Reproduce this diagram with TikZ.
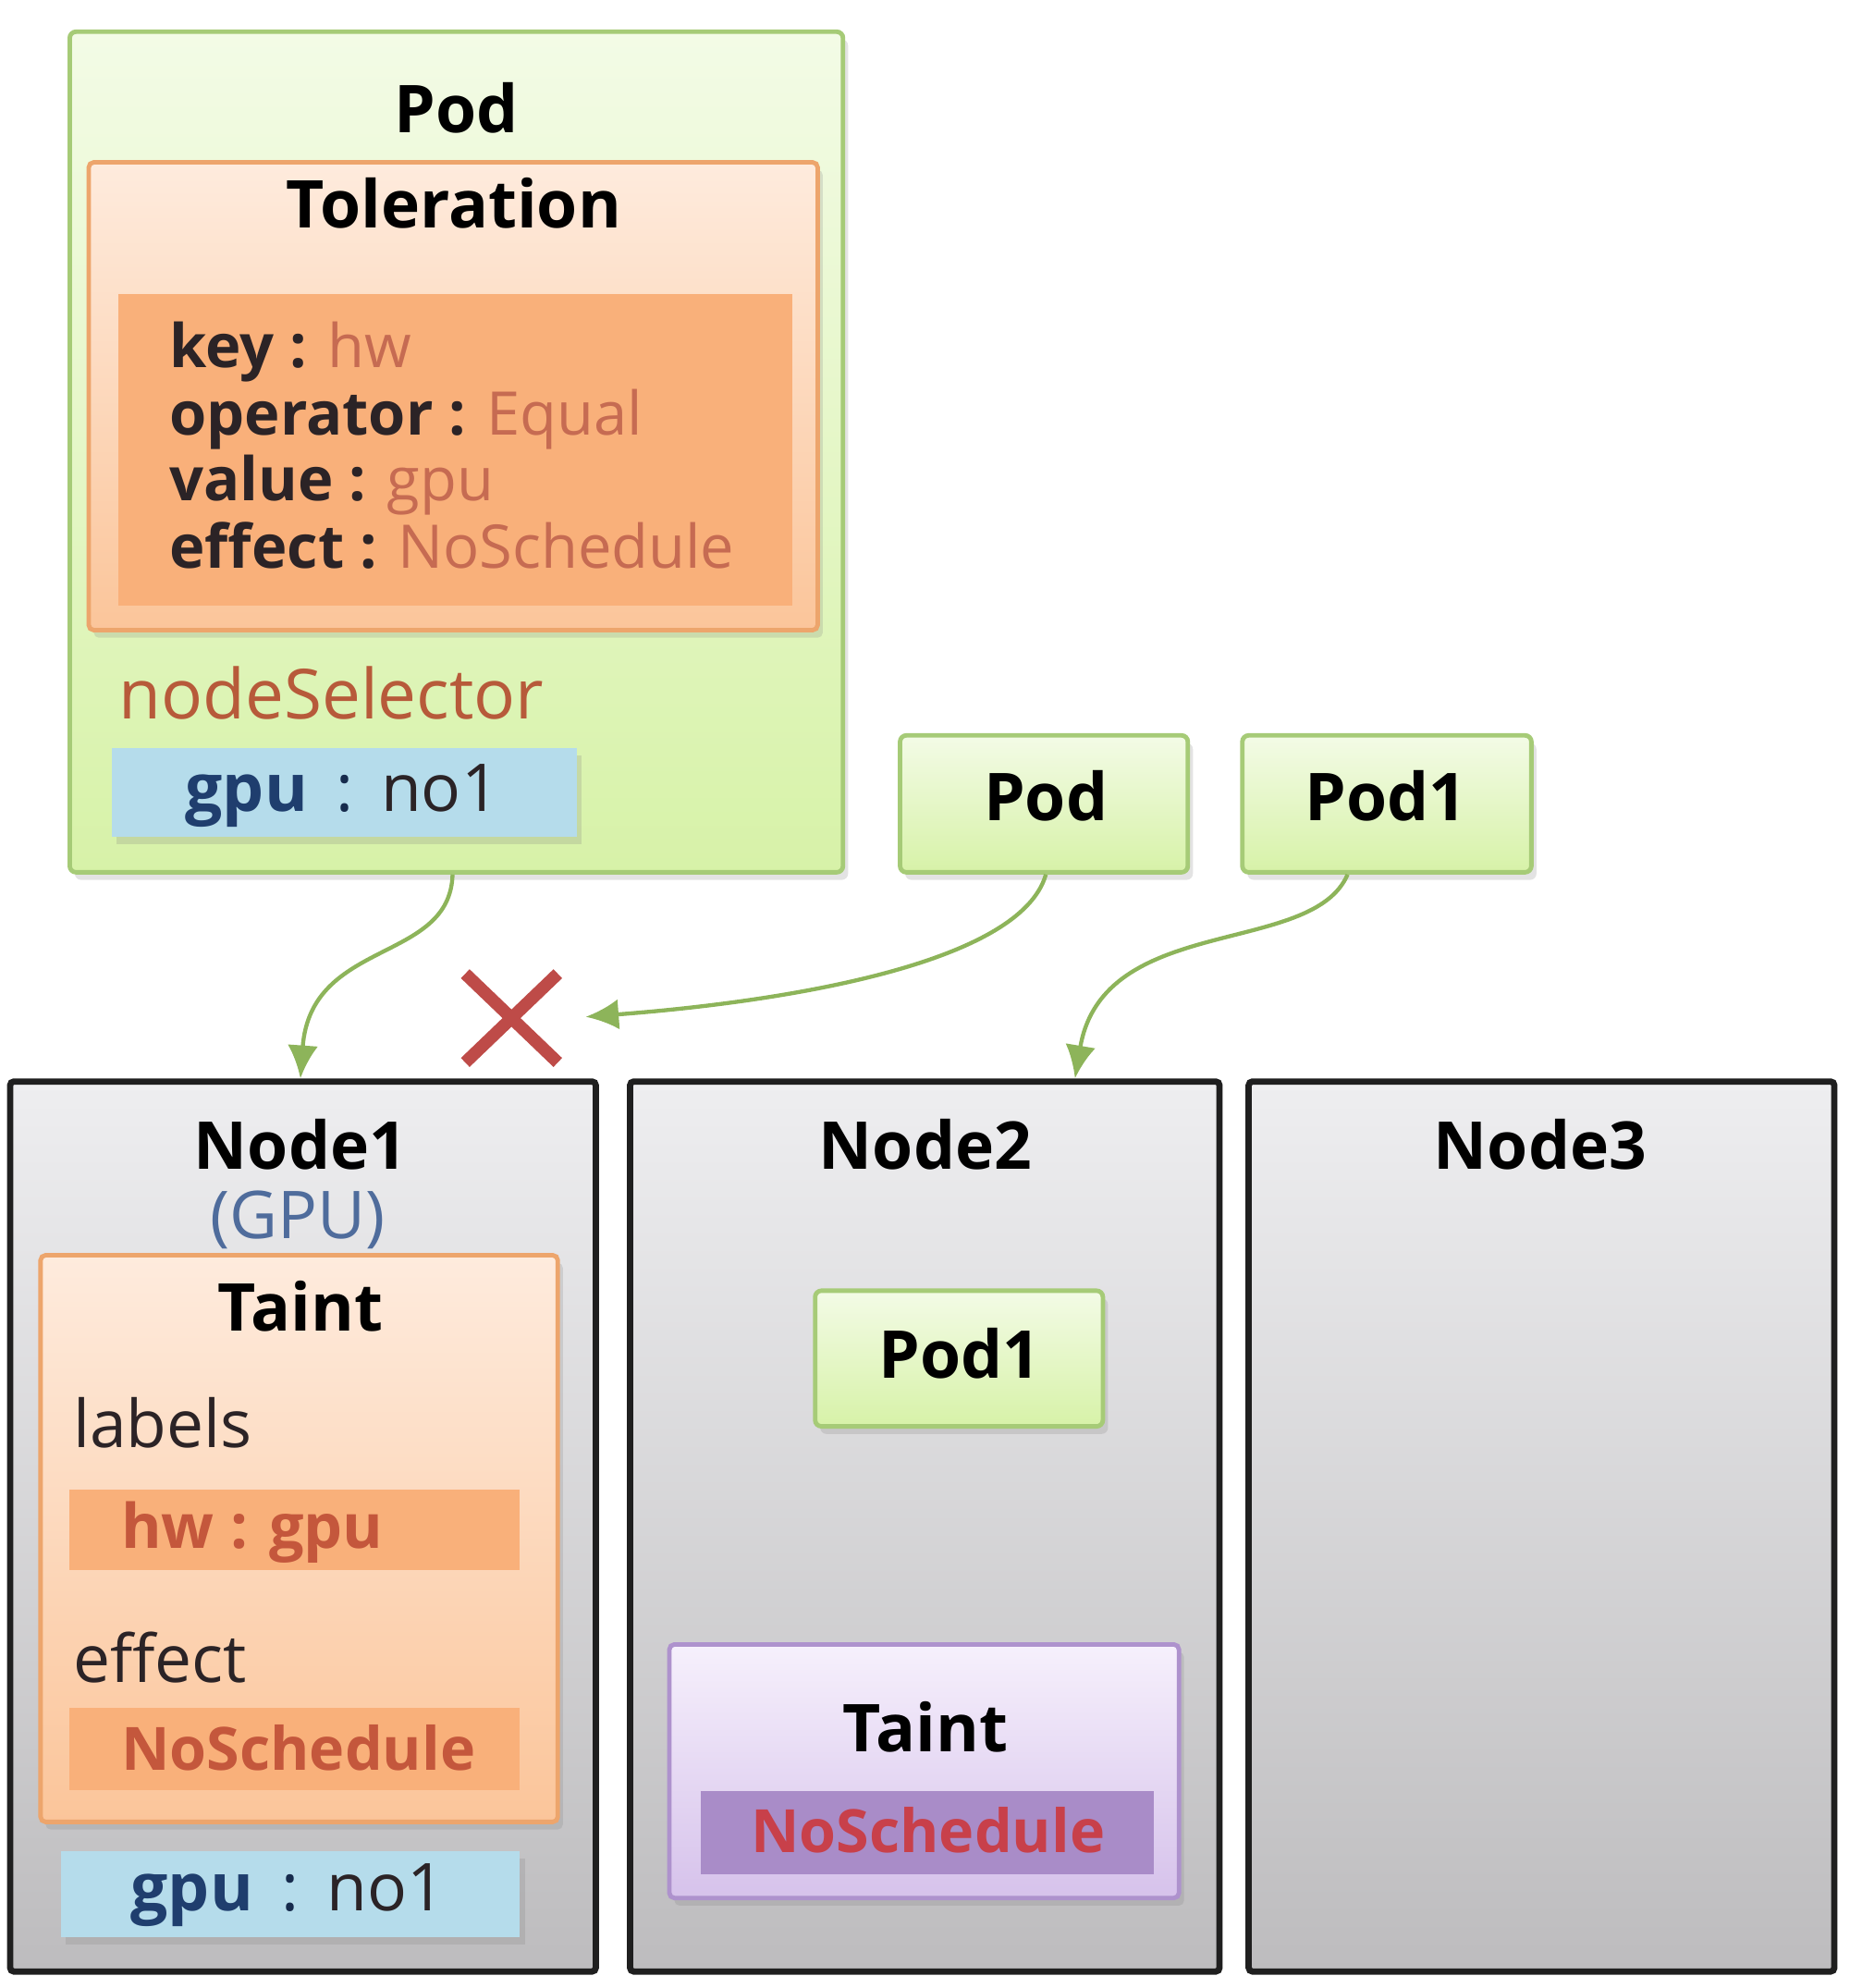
\documentclass[tikz,border=0pt]{standalone}
\usepackage{fontspec}
\setmainfont{Open Sans}
\usetikzlibrary{fit,arrows.meta,shadows}
\definecolor{podfillA}{HTML}{F3FBE6}
\definecolor{podfillB}{HTML}{D7F2A8}
\definecolor{podline}{HTML}{A6CB77}
\definecolor{tolfillA}{HTML}{FEEBDD}
\definecolor{tolfillB}{HTML}{FBC59A}
\definecolor{orline}{HTML}{EDA56C}
\definecolor{orbar}{HTML}{F9B07A}
\definecolor{valred}{HTML}{C66B52}
\definecolor{barred}{HTML}{C4573C}
\definecolor{selcol}{HTML}{B75A3A}
\definecolor{bluebar}{HTML}{B5DCEB}
\definecolor{navy}{HTML}{1F3E6E}
\definecolor{nodetop}{HTML}{EEEEF0}
\definecolor{nodebot}{HTML}{BDBCBE}
\definecolor{gpucol}{HTML}{4F6C9C}
\definecolor{purtop}{HTML}{F6F0FC}
\definecolor{purbot}{HTML}{D6C2EB}
\definecolor{purline}{HTML}{AE92CD}
\definecolor{purbar}{HTML}{A98CC8}
\definecolor{purtext}{HTML}{C8404A}
\definecolor{redx}{HTML}{BE4B48}
\definecolor{arrowgreen}{HTML}{8DB45A}
\definecolor{darktext}{HTML}{2B2326}
\begin{document}
\begin{tikzpicture}[x=0.1mm,y=-0.1mm,
  shadowed/.style={drop shadow={opacity=0.22,shadow xshift=0.4mm,shadow yshift=-0.6mm}},
  greenbox/.style={draw=podline,line width=1pt,rounded corners=0.5mm,top color=podfillA,bottom color=podfillB,inner sep=0pt,shadowed},
  nodebox/.style={draw=black!88,line width=1.4pt,rounded corners=0.3mm,top color=nodetop,bottom color=nodebot,inner sep=0pt},
  orbox/.style={draw=orline,line width=1pt,rounded corners=0.4mm,top color=tolfillA,bottom color=tolfillB,inner sep=0pt,shadowed},
  purbox/.style={draw=purline,line width=1pt,rounded corners=0.4mm,top color=purtop,bottom color=purbot,inner sep=0pt,shadowed},
  obar/.style={fill=orbar,draw=none,inner sep=0pt},
  bbar/.style={fill=bluebar,draw=none,inner sep=0pt,shadowed},
  pbar/.style={fill=purbar,draw=none,inner sep=0pt},
  title/.style={font=\fontsize{14.8}{17}\selectfont\bfseries,text=black,inner sep=0pt,anchor=base},
  kv/.style={font=\fontsize{13.5}{16}\selectfont,inner sep=0pt,anchor=base west},
  plain/.style={font=\fontsize{14.8}{17}\selectfont,inner sep=0pt,text=darktext},
  flow/.style={draw=arrowgreen,line width=0.9pt,-{Latex[length=2.6mm,width=2.4mm]}},
  xline/.style={draw=redx,line width=2.8pt}]
\useasboundingbox (0,0) rectangle (1459,1568);
% ---------- top Pod with toleration ----------
\node[greenbox,fit={(55,25) (665,688)}] (pod) {};
\node[title] (podT) at (360,105) {Pod};
\node[orbox,fit={(70,128) (645,497)}] (tol) {};
\node[title] (tolT) at (358,180) {Toleration};
\node[obar,fit={(93,232) (625,478)}] (tolbar) {};
\node[kv] (k1) at (133,290) {\textcolor{darktext}{\bfseries key :} \textcolor{valred}{hw}};
\node[kv] (k2) at (133,343) {\textcolor{darktext}{\bfseries operator :} \textcolor{valred}{Equal}};
\node[kv] (k3) at (133,395) {\textcolor{darktext}{\bfseries value :} \textcolor{valred}{gpu}};
\node[kv] (k4) at (133,448) {\textcolor{darktext}{\bfseries effect :} \textcolor{valred}{NoSchedule}};
\node[plain,anchor=base west,text=selcol,font=\fontsize{15.5}{18}\selectfont] (sel) at (93,567) {nodeSelector};
\node[bbar,fit={(88,590) (455,660)}] (selbar) {};
\node[plain,anchor=base] (selT) at (270,640) {\textcolor{navy}{\bfseries gpu}\hspace{2.2mm}\textcolor{navy!70!black}{:}\hspace{2.2mm}\textcolor{darktext}{no1}};
% ---------- small pods ----------
\node[greenbox,fit={(710,580) (937,688)}] (podB) {};
\node[title] (podBT) at (825,647) {Pod};
\node[greenbox,fit={(980,580) (1208,688)}] (podC) {};
\node[title] (podCT) at (1093,647) {Pod1};
% ---------- nodes ----------
\node[nodebox,fit={(8,853) (470,1555)}] (n1) {};
\node[nodebox,fit={(497,853) (962,1555)}] (n2) {};
\node[nodebox,fit={(985,853) (1447,1555)}] (n3) {};
\node[title] (n1T) at (237,922) {Node1};
\node[plain,anchor=base,text=gpucol] (n1G) at (235,977) {(GPU)};
\node[title] (n2T) at (730,922) {Node2};
\node[title] (n3T) at (1215,922) {Node3};
% Node1 taint
\node[orbox,fit={(32,990) (440,1437)}] (t1) {};
\node[title] (t1T) at (237,1050) {Taint};
\node[plain,anchor=base west] (lab) at (57,1142) {labels};
\node[obar,fit={(55,1175) (410,1238)}] (hwbar) {};
\node[plain,anchor=base west,text=barred,font=\fontsize{13.8}{17}\selectfont\bfseries] (hwT) at (95,1221) {hw : gpu};
\node[plain,anchor=base west] (eff) at (57,1327) {effect};
\node[obar,fit={(55,1347) (410,1412)}] (nsbar) {};
\node[plain,anchor=base west,text=barred,font=\fontsize{13.4}{17}\selectfont\bfseries] (nsT) at (95,1396) {NoSchedule};
\node[bbar,fit={(48,1460) (410,1528)}] (n1bar) {};
\node[plain,anchor=base] (n1barT) at (227,1507) {\textcolor{navy}{\bfseries gpu}\hspace{2.2mm}\textcolor{navy!70!black}{:}\hspace{2.2mm}\textcolor{darktext}{no1}};
% Node2 content
\node[greenbox,fit={(643,1018) (870,1125)}] (p2) {};
\node[title] (p2T) at (757,1087) {Pod1};
\node[purbox,fit={(528,1297) (930,1497)}] (t2) {};
\node[title] (t2T) at (730,1382) {Taint};
\node[pbar,fit={(553,1413) (910,1478)}] (t2bar) {};
\node[plain,anchor=base,text=purtext,font=\fontsize{13.4}{17}\selectfont\bfseries] (t2barT) at (732,1461) {NoSchedule};
% ---------- red X and connectors ----------
\coordinate (xa) at (367,768);
\coordinate (xb) at (440,838);
\coordinate (xc) at (440,768);
\coordinate (xd) at (367,838);
\draw[xline] (xa) -- (xb);
\draw[xline] (xc) -- (xd);
\coordinate (xend) at (462,802);
\draw[flow] (pod.south -| 357,0) .. controls (355,760) and (245,740) .. (n1.north -| 237,0);
\draw[flow] (podB.south -| 825,0) .. controls (805,760) and (620,790) .. (xend);
\draw[flow] (podC.south -| 1063,0) .. controls (1035,755) and (870,720) .. (n2.north -| 848,0);
\end{tikzpicture}
\end{document}
